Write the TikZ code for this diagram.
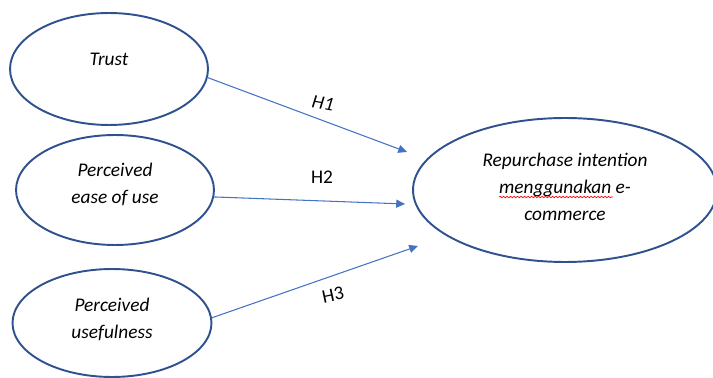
\documentclass[tikz,border=0pt]{standalone}
\usepackage{fontspec}
\setmainfont{Carlito}
\usetikzlibrary{shapes.geometric,arrows.meta,decorations.pathmorphing}
\definecolor{ellblue}{HTML}{2F528F}
\definecolor{arrblue}{HTML}{4472C4}

\begin{document}
\begin{tikzpicture}[x=0.02cm, y=-0.02cm,
        construct/.style={draw=ellblue, line width=1.1pt, ellipse, inner sep=0},
        txt/.style={font=\fontsize{11}{15.3}\selectfont\itshape, align=center},
        hyp/.style={font=\fontsize{11}{13}\selectfont},
        every path/.style={line width=0.6pt, >={Triangle[length=5pt,width=4.6pt]}}]
        \useasboundingbox (0,0) rectangle (713,378);
        \begin{scope}[every node/.style={construct}]
                \node[minimum width=3.96cm, minimum height=2.24cm,
                      label={[txt, yshift=0.2cm]center:Trust}] (T) at (109,69) {};
                \node[minimum width=3.96cm, minimum height=2.2cm,
                      label={[txt, yshift=0.11cm]center:Perceived\\ease of use}] (PE) at (115,190) {};
                \node[minimum width=3.98cm, minimum height=2.16cm,
                      label={[txt, yshift=0.08cm]center:Perceived\\usefulness}] (PU) at (112,323) {};
                \node[minimum width=6.08cm, minimum height=2.88cm,
                      label={[txt, yshift=0.06cm]center:Repurchase intention\\menggunakan e-\\commerce}] (RI) at (565,190) {};
        \end{scope}

        \coordinate (E1) at (407,152);
        \coordinate (E2) at (405,204);
        \coordinate (E3) at (418,246);

        \path (T.-5) edge[->, draw=arrblue] (E1);
        \path (PE.-4) edge[->, draw=arrblue] (E2);
        \path (PU.3) edge[->, draw=arrblue] (E3);

        \node[hyp, rotate=-10] (H1) at (323,103) {\itshape H1};
        \node[hyp] (H2) at (322,177) {H2};
        \node[hyp, rotate=12] (H3) at (333,295) {H3};

        % spell-check underline
        \draw[red, line width=0.4pt, decorate,
              decoration={snake, segment length=0.07cm, amplitude=0.4pt}] (499,197) -- (613,197);
\end{tikzpicture}
\end{document}
